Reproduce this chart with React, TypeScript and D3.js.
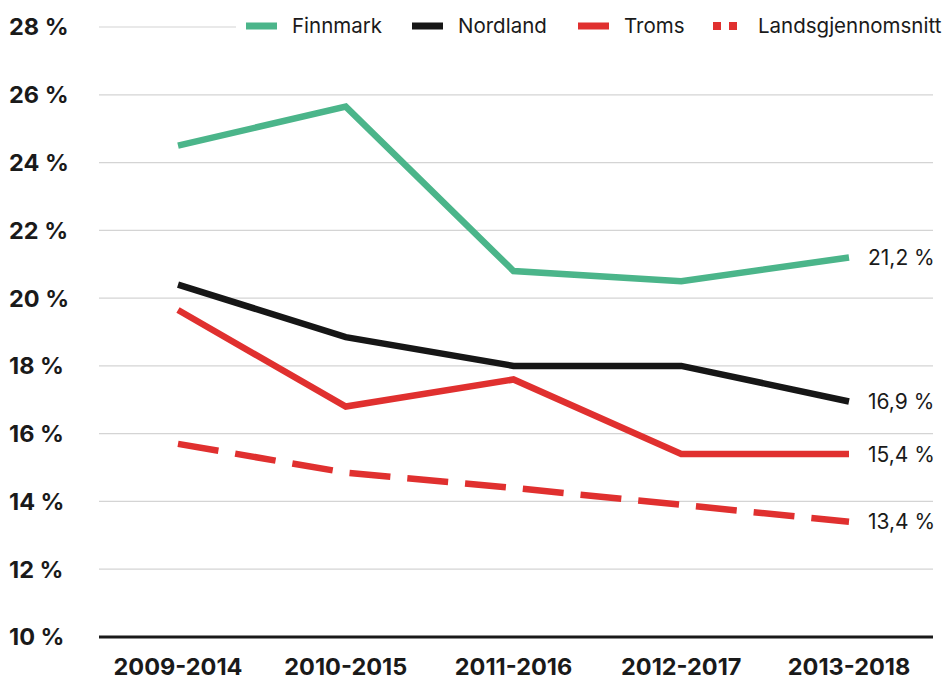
import React from "react";
import * as d3 from "d3";

const periods = ["2009-2014", "2010-2015", "2011-2016", "2012-2017", "2013-2018"];
const finnmark = [24.5, 25.65, 20.8, 20.5, 21.2];
const nordland = [20.4, 18.85, 18.0, 18.0, 16.95];
const troms = [19.65, 16.8, 17.6, 15.4, 15.4];
const landsgjennomsnitt = [15.7, 14.85, 14.4, 13.9, 13.4];
const yTicks = [10, 12, 14, 16, 18, 20, 22, 24, 26, 28];

const series = [
  { name: "Finnmark", values: finnmark, color: "#4bb58a", dash: null, end: "21,2 %" },
  { name: "Nordland", values: nordland, color: "#161616", dash: null, end: "16,9 %" },
  { name: "Troms", values: troms, color: "#e0302f", dash: null, end: "15,4 %" },
  { name: "Landsgjennomsnitt", values: landsgjennomsnitt, color: "#e0302f", dash: "41 17", end: "13,4 %" },
];

const W = 945;
const H = 684;

export default function App() {
  const x = d3.scalePoint<string>().domain(periods).range([178, 849]);
  const y = d3.scaleLinear().domain([10, 28]).range([637, 27]);
  const line = d3
    .line<number>()
    .x((_, i) => x(periods[i]) as number)
    .y((d) => y(d));

  const font = "Inter, 'Noto Sans', sans-serif";
  const legendPos = [246, 412, 578, 713];

  return (
    <svg
      width={W}
      height={H}
      style={{ position: "absolute", left: 0, top: 0, background: "#fff" }}
      fontFamily={font}
    >
      {yTicks.map((t) => (
        <g key={t}>
          {t > 10 && (
            <line x1={99} x2={933} y1={y(t)} y2={y(t)} stroke="#d4d4d4" strokeWidth={1.2} />
          )}
          <text x={9} y={y(t)} dy="0.36em" fontSize={23.5} fontWeight={700} fill="#1a1a1a">
            {t} %
          </text>
        </g>
      ))}
      {/* white box behind legend so grid line doesn't run under it */}
      <rect x={236} y={10} width={709} height={34} fill="#fff" />
      <line x1={99} x2={933} y1={y(10)} y2={y(10)} stroke="#1a1a1a" strokeWidth={3} />

      {periods.map((p) => (
        <text
          key={p}
          x={x(p)}
          y={675}
          textAnchor="middle"
          fontSize={23.5}
          fontWeight={700}
          fill="#1a1a1a"
        >
          {p}
        </text>
      ))}

      {series.map((s) => (
        <g key={s.name}>
          <path
            d={line(s.values) || ""}
            fill="none"
            stroke={s.color}
            strokeWidth={6.5}
            strokeDasharray={s.dash || undefined}
            strokeLinejoin="miter"
          />
          <text
            x={868}
            y={y(s.values[s.values.length - 1])}
            dy="0.36em"
            fontSize={21}
            fill="#1a1a1a"
          >
            {s.end}
          </text>
        </g>
      ))}

      {series.map((s, i) => (
        <g key={"lg" + s.name} transform={`translate(${legendPos[i]},26)`}>
          {s.dash ? (
            <>
              <rect x={0} y={-4} width={8} height={8} fill={s.color} />
              <rect x={16} y={-4} width={8} height={8} fill={s.color} />
            </>
          ) : (
            <rect x={0} y={-3.5} width={31} height={7} fill={s.color} />
          )}
          <text x={s.dash ? 45 : 46} y={0} dy="0.36em" fontSize={20.5} fill="#1a1a1a">
            {s.name}
          </text>
        </g>
      ))}
    </svg>
  );
}
